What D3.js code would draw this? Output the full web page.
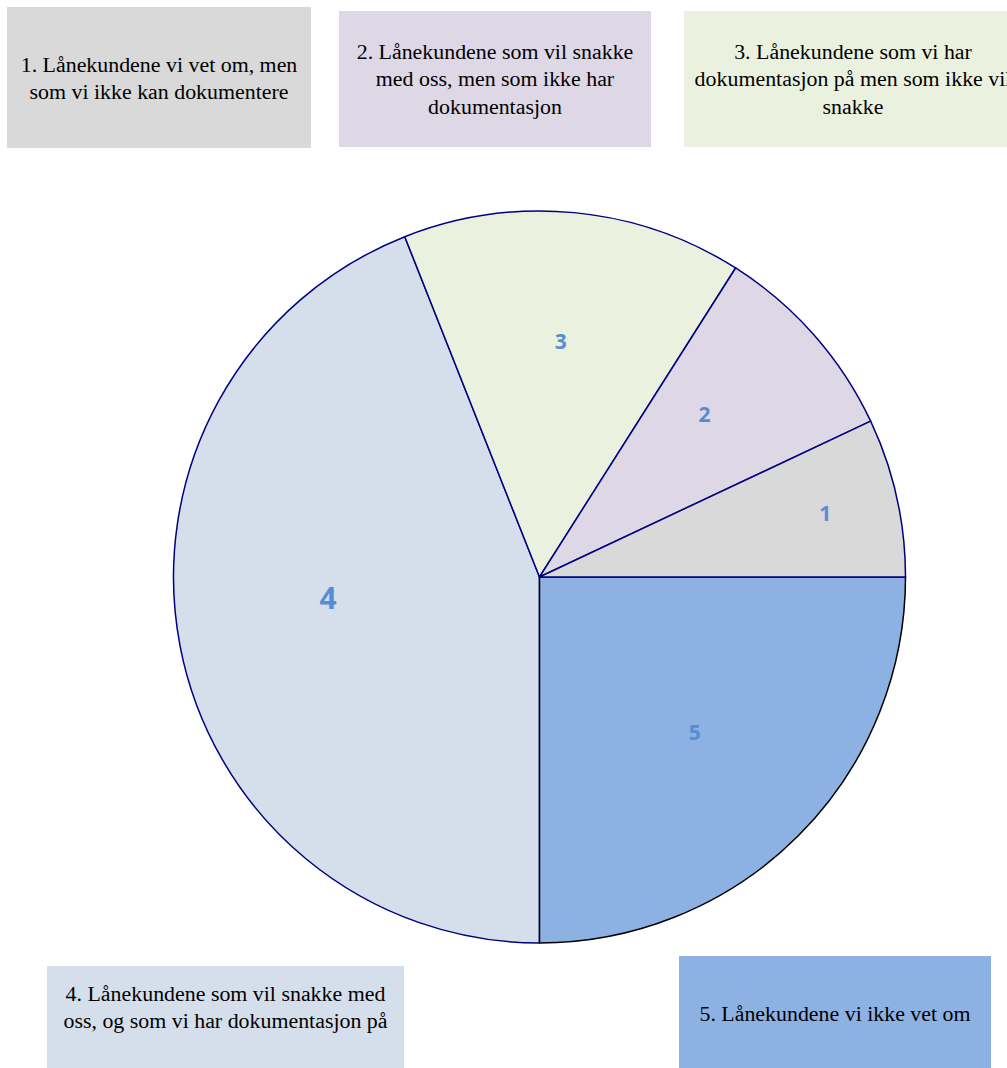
<!DOCTYPE html>
<html><head><meta charset="utf-8">
<script src="https://cdn.jsdelivr.net/npm/d3@7"></script>
<style>html,body{margin:0;padding:0;background:#fff;overflow:hidden}</style>
</head><body>
<svg id="c" width="1007" height="1068"></svg>
<script>
const categories = ["1", "2", "3", "4", "5"];
const values = [7, 9, 15, 44, 25];
const legendTexts = [
  ["1. Lånekundene vi vet om, men", "som vi ikke kan dokumentere"],
  ["2. Lånekundene som vil snakke", "med oss, men som ikke har", "dokumentasjon"],
  ["3. Lånekundene som vi har", "dokumentasjon på men som ikke vil", "snakke"],
  ["4. Lånekundene som vil snakke med", "oss, og som vi har dokumentasjon på"],
  ["5. Lånekundene vi ikke vet om"]
];
const colors = ["#d9d9d9", "#ddd7e6", "#ebf1df", "#d5dfeb", "#8db1e3"];

const svg = d3.select("#c");
const cx = 539.5, cy = 577, R = 366;

const pie = d3.pie().sort(null).value(d => d)
  .startAngle(Math.PI / 2).endAngle(Math.PI / 2 - 2 * Math.PI);
const arcs = pie(values);
const arc = d3.arc().innerRadius(0).outerRadius(R);

const g = svg.append("g").attr("transform", `translate(${cx},${cy})`);
const order = [3, 4, 2, 1, 0];
order.forEach(i => {
  g.append("path").attr("d", arc(arcs[i]))
    .attr("fill", colors[i])
    .attr("stroke", i === 4 ? "#000000" : "#000080")
    .attr("stroke-width", 1.5)
    .attr("stroke-linejoin", "round");
});

// slice labels: position along slice (t) and radius fraction
const labelT = [0.5, 0.6, 0.505, 0.466, 0.5];
const labelR = [0.80, 0.634, 0.647, 0.58, 0.60];
const labelSize = [21, 21, 21, 30, 21];
arcs.forEach((a, i) => {
  const ang = a.startAngle + labelT[i] * (a.endAngle - a.startAngle);
  const r = R * labelR[i];
  g.append("text")
    .attr("x", Math.sin(ang) * r)
    .attr("y", -Math.cos(ang) * r)
    .attr("text-anchor", "middle")
    .attr("dominant-baseline", "central")
    .attr("font-family", "'Open Sans', 'DejaVu Sans', sans-serif")
    .attr("font-weight", "bold")
    .attr("font-size", labelSize[i])
    .attr("fill", "#558ed5")
    .text(categories[i]);
});

// legend boxes
const boxes = [
  {x: 7, y: 7, w: 304, h: 141, ty: 64},
  {x: 339, y: 11, w: 312, h: 136, ty: 51},
  {x: 684, y: 11, w: 338, h: 136, ty: 51},
  {x: 47, y: 966, w: 357, h: 102, ty: 993},
  {x: 679, y: 956, w: 312, h: 112, ty: 1013}
];
boxes.forEach((b, i) => {
  svg.append("rect").attr("x", b.x).attr("y", b.y).attr("width", b.w).attr("height", b.h)
    .attr("fill", colors[i]);
  const t = svg.append("text")
    .attr("font-family", "'Liberation Serif', 'Times New Roman', serif")
    .attr("font-size", 21.9)
    .attr("fill", "#000")
    .attr("text-anchor", "middle");
  legendTexts[i].forEach((line, j) => {
    t.append("tspan").attr("x", b.x + b.w / 2).attr("y", b.ty + j * 27.5)
      .attr("dominant-baseline", "central").text(line);
  });
});
</script>
</body></html>
